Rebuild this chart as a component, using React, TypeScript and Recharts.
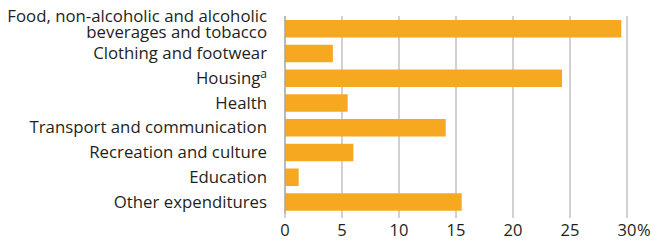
import { BarChart, Bar, XAxis, YAxis, CartesianGrid } from "recharts";

const categories = [
  "Food, non-alcoholic and alcoholic|beverages and tobacco",
  "Clothing and footwear",
  "Housing",
  "Health",
  "Transport and communication",
  "Recreation and culture",
  "Education",
  "Other expenditures",
];
const shares = [29.5, 4.2, 24.3, 5.5, 14.1, 6.0, 1.2, 15.5];
const xTicks = [0, 5, 10, 15, 20, 25, 30];

const data = categories.map((c, i) => ({ cat: c, value: shares[i] }));

const FONT = "'Open Sans', sans-serif";
const TEXT = "#231f20";
const GRID = "#a3a3a3";

const CatTick = ({ x, y, payload }: any) => {
  const label: string = payload.value;
  if (label.includes("|")) {
    const [a, b] = label.split("|");
    return (
      <text x={x} y={y} textAnchor="end" fill={TEXT} fontFamily={FONT} fontSize={16.8}>
        <tspan x={x} dy={-6}>{a}</tspan>
        <tspan x={x} dy={15.5}>{b}</tspan>
      </text>
    );
  }
  if (label === "Housing") {
    return (
      <text x={x} y={y + 6} textAnchor="end" fill={TEXT} fontFamily={FONT} fontSize={16.8}>
        Housing
        <tspan fontSize={12} dy={-6}>a</tspan>
      </text>
    );
  }
  return (
    <text x={x} y={y + 6} textAnchor="end" fill={TEXT} fontFamily={FONT} fontSize={16.8}>
      {label}
    </text>
  );
};

const ValTick = ({ x, y, payload }: any) => (
  <g>
    <text x={x} y={y + 18} textAnchor="middle" fill={TEXT} fontFamily={FONT} fontSize={16.5}>
      {payload.value}
    </text>
    {payload.value === 30 && (
      <text x={x + 10} y={y + 18} textAnchor="start" fill={TEXT} fontFamily={FONT} fontSize={16.5}>
        %
      </text>
    )}
  </g>
);

export default function App() {
  return (
    <div style={{ position: "absolute", left: 0, top: 0, background: "#fff" }}>
      <BarChart
        width={651}
        height={240}
        data={data}
        layout="vertical"
        margin={{ top: 16, right: 24, bottom: 0, left: 0 }}
        barCategoryGap={0}
      >
        <CartesianGrid horizontal={false} stroke={GRID} strokeWidth={1} />
        <XAxis
          type="number"
          domain={[0, 30]}
          ticks={xTicks}
          axisLine={false}
          tickLine={{ stroke: GRID }}
          tickSize={4}
          tickMargin={0}
          height={26}
          tick={<ValTick />}
          interval={0}
        />
        <YAxis
          type="category"
          dataKey="cat"
          width={285}
          axisLine={{ stroke: GRID }}
          tickLine={false}
          tickSize={0}
          tickMargin={18}
          tick={<CatTick />}
          interval={0}
        />
        <Bar dataKey="value" fill="#f6a821" barSize={17.5} isAnimationActive={false} />
      </BarChart>
    </div>
  );
}
